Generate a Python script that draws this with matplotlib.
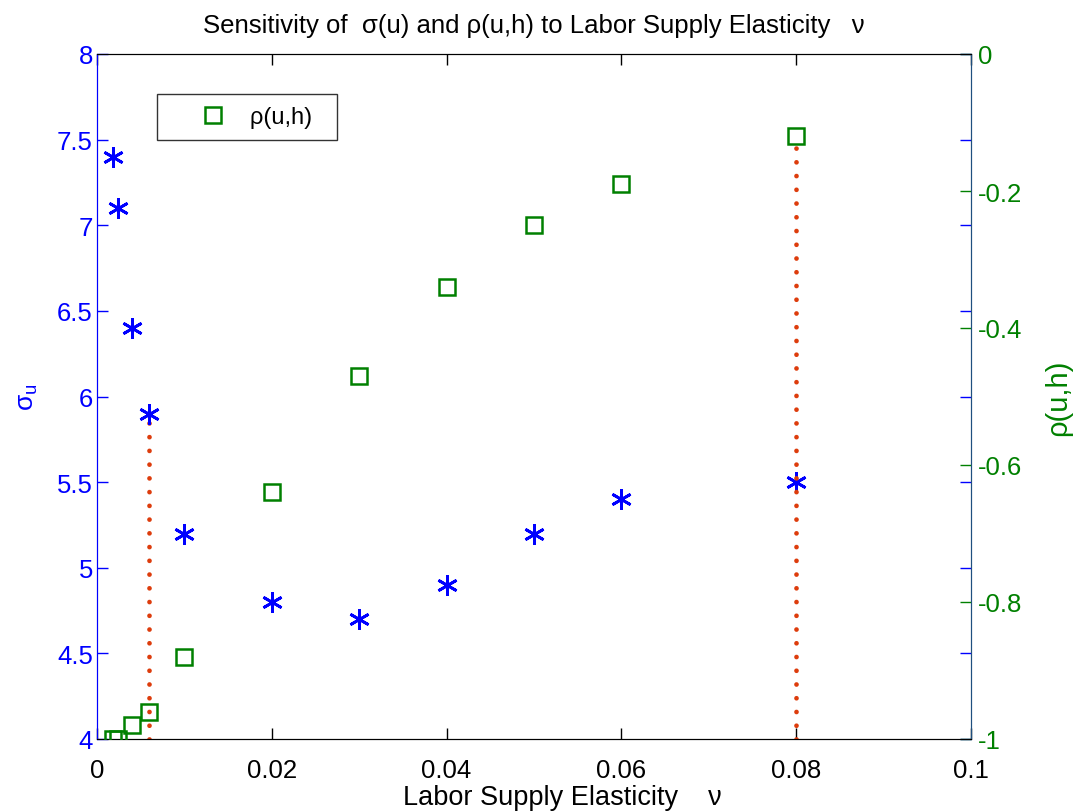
import matplotlib
matplotlib.use("Agg")
import matplotlib.pyplot as plt
import numpy as np

plt.rcParams['font.family'] = ['Liberation Sans', 'DejaVu Sans']
plt.rcParams['mathtext.fontset'] = 'custom'
plt.rcParams['mathtext.rm'] = 'Liberation Sans'
plt.rcParams['mathtext.it'] = 'Liberation Sans'

# data
nu = [0.0018, 0.0024, 0.004, 0.006, 0.01, 0.02, 0.03, 0.04, 0.05, 0.06, 0.08]
sigma_u = [7.4, 7.1, 6.4, 5.9, 5.2, 4.8, 4.7, 4.9, 5.2, 5.4, 5.5]
rho_uh = [-1.0, -1.0, -0.98, -0.96, -0.88, -0.64, -0.47, -0.34, -0.25, -0.19, -0.12]
line1_x = [0.006, 0.006]
line1_y = [4.0, 5.85]
line2_x = [0.08, 0.08]
line2_rho = [-1.0, -0.12]

blue = (0, 0, 1)
green = (0, 0.5, 0)
red = '#dd3c0c'

fig = plt.figure(figsize=(10.74, 8.12), dpi=100)
ax = fig.add_axes([97/1074, 1-740/812, (971-97)/1074, (740-55)/812])
ax2 = ax.twinx()

ax.plot(line1_x, line1_y, color=red, lw=3.4, dashes=(0.01, 2.9),
        dash_capstyle='round', zorder=2)
ax2.plot(line2_x, line2_rho, color=red, lw=3.4, dashes=(0.01, 2.9),
         dash_capstyle='round', zorder=2)

ax.plot(nu, sigma_u, linestyle='none', marker=(6, 2, 0), markersize=15,
        markeredgewidth=2.0, color=blue, zorder=3)
ax2.plot(nu, rho_uh, linestyle='none', marker='s', markersize=11,
         markerfacecolor='none', markeredgecolor=green, markeredgewidth=1.8,
         label='ρ(u,h)  ', zorder=3)

ax.set_xlim(0, 0.1)
ax.set_ylim(4, 8)
ax2.set_ylim(-1, 0)
ax.set_xticks([0, 0.02, 0.04, 0.06, 0.08, 0.1])
ax.set_xticklabels(['0', '0.02', '0.04', '0.06', '0.08', '0.1'])
ax.set_yticks([4, 4.5, 5, 5.5, 6, 6.5, 7, 7.5, 8])
ax.set_yticklabels(['4', '4.5', '5', '5.5', '6', '6.5', '7', '7.5', '8'])
ax2.set_yticks([-1, -0.8, -0.6, -0.4, -0.2, 0])
ax2.set_yticklabels(['-1', '-0.8', '-0.6', '-0.4', '-0.2', '0'])

ax.tick_params(axis='x', direction='in', length=8, width=1, colors='black',
               labelsize=18.5, top=True, pad=14)
ax.tick_params(axis='y', direction='in', length=8, width=1, colors=blue,
               labelsize=18.5, right=True, pad=3)
ax2.tick_params(axis='y', direction='in', length=8, width=1, colors=green,
                labelsize=18.5, pad=5)

for a in (ax, ax2):
    a.spines['top'].set_color('black')
    a.spines['bottom'].set_color('black')
    a.spines['left'].set_color(blue)
    a.spines['right'].set_color('#1f4f7f')

ax.set_title('Sensitivity of  σ(u) and ρ(u,h) to Labor Supply Elasticity   ν',
             fontsize=18.5, pad=16)
ax.set_xlabel('Labor Supply Elasticity    ν', fontsize=19.5, labelpad=1.2)
ax.xaxis.label.set_x((562 - 97) / 874)
ax.set_ylabel(r'$\sigma_u$', fontsize=19, color=blue, labelpad=12)
ax2.set_ylabel('ρ(u,h)', fontsize=21, color=green, labelpad=16)

leg = ax2.legend(loc='upper left', bbox_to_anchor=((157-97)/874, 1-(95-55)/685),
                 fontsize=17, frameon=True, fancybox=False, edgecolor='black',
                 handlelength=3.74, handletextpad=-0.29, borderpad=0.5,
                 borderaxespad=0)
leg.get_frame().set_linewidth(1.0)

fig.savefig('out.png', dpi=100)
